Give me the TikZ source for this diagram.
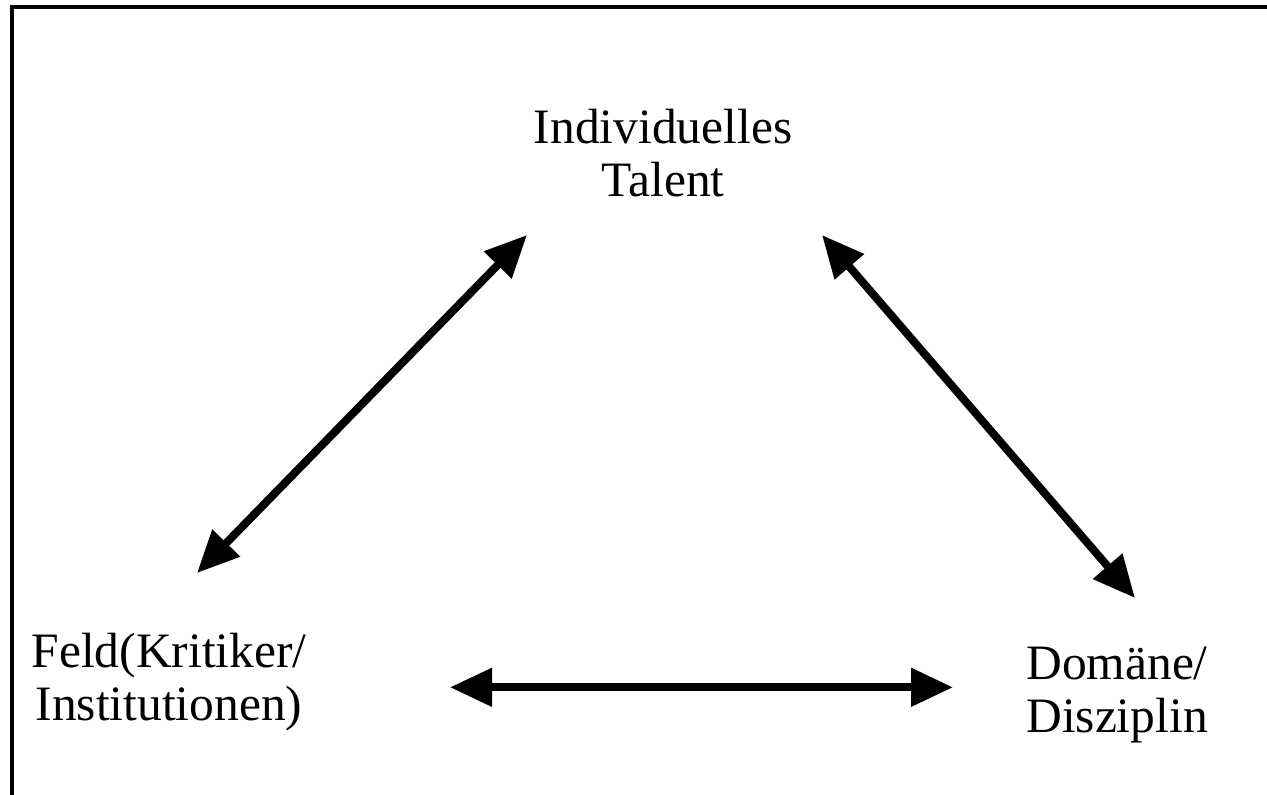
\documentclass[tikz,border=0pt]{standalone}
\usepackage{fontspec}
\setmainfont{Liberation Serif}
\usetikzlibrary{arrows.meta}
\begin{document}
\begin{tikzpicture}[x=1pt,y=-1pt,
  lbl/.style={align=center,inner sep=0pt,anchor=base,font=\fontsize{49.5}{53}\selectfont},
  link/.style={line width=8pt,{Triangle[length=42pt,width=37pt]}-{Triangle[length=42pt,width=37pt]}},
  frame/.style={line width=4.5pt}]
\useasboundingbox (0,0) rectangle (1267,795);
\fill[white] (0,0) rectangle (1267,795);
\draw[frame] (12,800) -- (12,7.2) -- (1272,7.2);
\node[lbl] (ind) at (663,196) {Individuelles\\Talent};
\node[lbl] (feld) at (169,720) {Feld(Kritiker/\\Institutionen)};
\node[lbl] (dom) at (1117,732) {Domäne/\\Disziplin};
\coordinate (a1) at (197,573);
\coordinate (a2) at (527,235);
\coordinate (b1) at (822,235);
\coordinate (b2) at (1135,598);
\coordinate (c1) at (450,687.3);
\coordinate (c2) at (953,687.3);
\draw[link] (a1) -- (a2);
\draw[link] (b1) -- (b2);
\draw[link] (c1) -- (c2);
\end{tikzpicture}
\end{document}
